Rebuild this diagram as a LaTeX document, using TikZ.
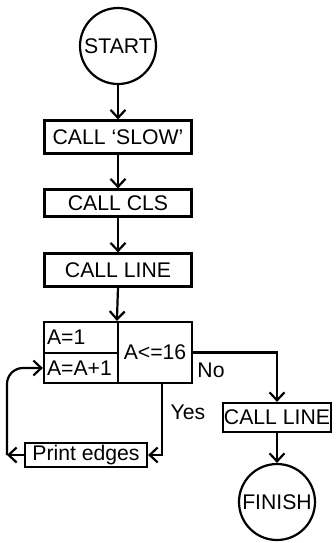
\documentclass[tikz,border=0pt]{standalone}
\usepackage{fontspec}
\setmainfont{Liberation Sans}
\usetikzlibrary{arrows.meta}
\begin{document}
\begin{tikzpicture}[x=0.5pt,y=-0.5pt,
  font=\fontsize{10.6}{12}\selectfont,
  line width=1.1pt,
  >={Straight Barb[length=4pt,width=7.5pt]},
  term/.style={draw,circle,minimum size=38pt,inner sep=0pt},
  box/.style={draw,rectangle,minimum width=73.5pt,minimum height=16.5pt,inner sep=1pt},
  cell/.style={draw,rectangle,text width=34pt,align=left,inner sep=1.5pt,minimum height=15.5pt}]
\useasboundingbox (0,0) rectangle (336,543);
% main column
\node[term] (start) at (118,46) {START};
\node[box] (slow) at (118,137) {CALL `SLOW'};
\node[box,minimum height=13.5pt] (cls) at (118,203) {CALL CLS};
\node[box] (line1) at (118,270) {CALL LINE};
% loop block
\node[cell] (init) at (81,337.5) {A=1};
\node[cell,minimum height=15pt] (inc) at (81,368) {A=A+1};
\node[draw,minimum width=37pt,minimum height=30.5pt,inner sep=1pt] (test) at (155,352.5) {A<=16};
% exit branch
\node[box,minimum width=53pt,minimum height=14.5pt,inner sep=0.5pt] (line2) at (277,417.5) {CALL LINE};
\node[term] (finish) at (277,502) {FINISH};
\node[box,minimum width=61pt,minimum height=12pt,inner sep=0.5pt] (print) at (86,455) {Print edges};
\node (no) at (211,370) {No};
\node (yes) at (188,412) {Yes};
\coordinate (down) at (162,383);
\coordinate (back) at (7,455);

\draw[->] (start) -- (slow);
\draw[->] (slow) -- (cls);
\draw[->] (cls) -- (line1);
\draw[->] (line1.south) -- (test.north west);
\draw[->] (test.east) -| (line2);
\draw[->] (line2) -- (finish);
\draw[->] (down) |- (print.east);
\draw[->] (print.west) -- (back);
\draw[->,rounded corners=8pt] (back) |- (inc.west);
\end{tikzpicture}
\end{document}
